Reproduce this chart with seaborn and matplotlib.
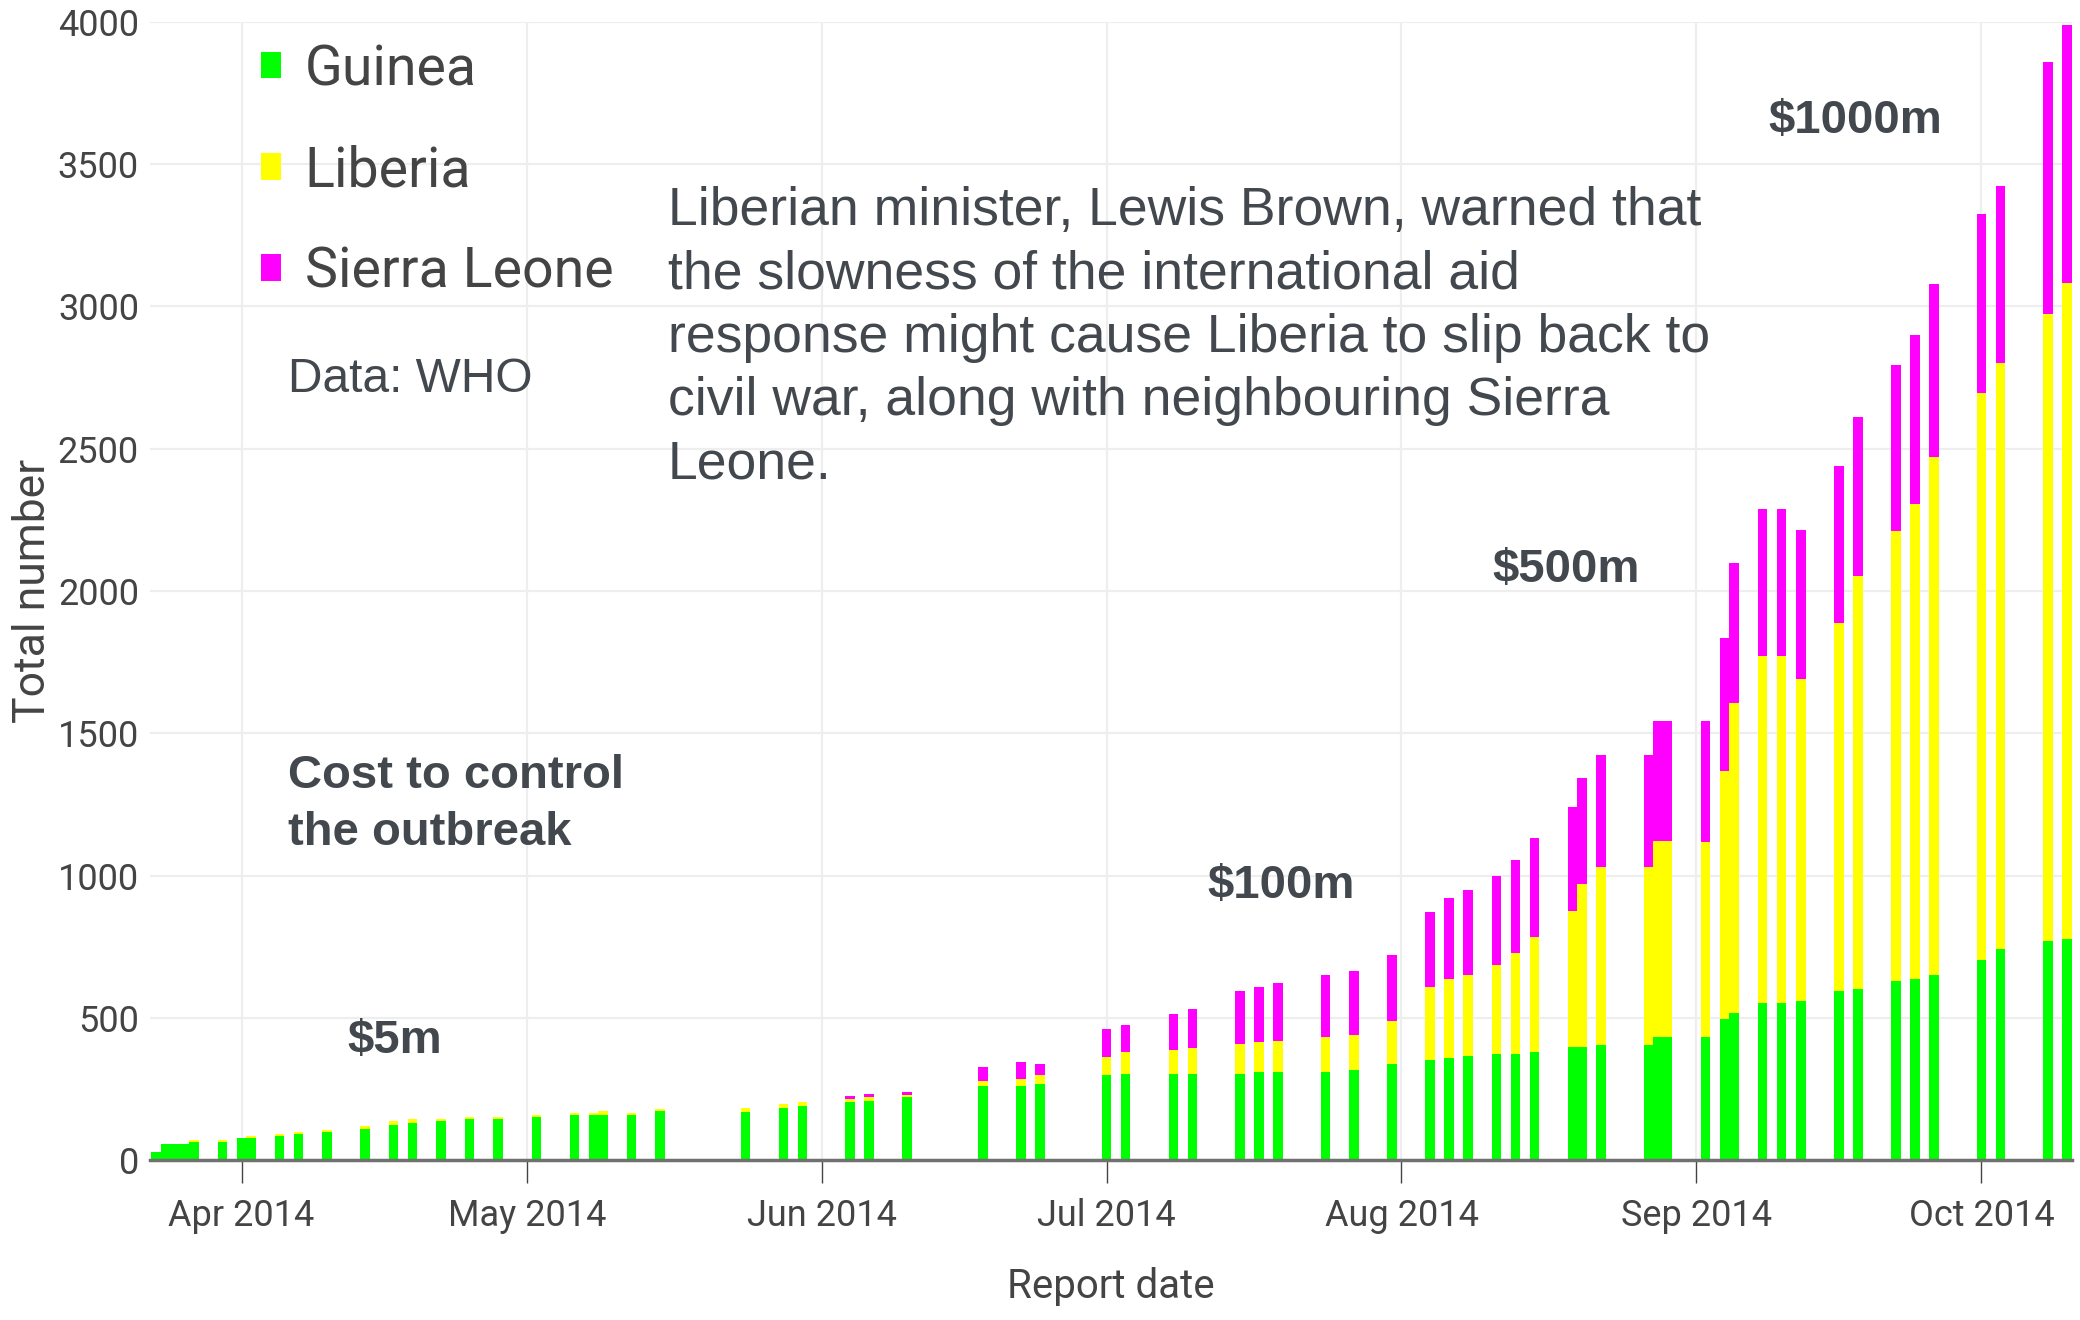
import pandas as pd
import numpy as np
import matplotlib.pyplot as plt
import matplotlib.dates as mdates
from matplotlib.patches import Patch
import seaborn as sns

# Dados (mortes acumuladas reportadas pela OMS)
report_dates = ['2014-03-23', '2014-03-24', '2014-03-25', '2014-03-26', '2014-03-27', '2014-03-30',
                '2014-04-01', '2014-04-02', '2014-04-05', '2014-04-07', '2014-04-10', '2014-04-14',
                '2014-04-17', '2014-04-19', '2014-04-22', '2014-04-25', '2014-04-28', '2014-05-02',
                '2014-05-06', '2014-05-08', '2014-05-09', '2014-05-12', '2014-05-15', '2014-05-24',
                '2014-05-28', '2014-05-30', '2014-06-04', '2014-06-06', '2014-06-10', '2014-06-18',
                '2014-06-22', '2014-06-24', '2014-07-01', '2014-07-03', '2014-07-08', '2014-07-10',
                '2014-07-15', '2014-07-17', '2014-07-19', '2014-07-24', '2014-07-27', '2014-07-31',
                '2014-08-04', '2014-08-06', '2014-08-08', '2014-08-11', '2014-08-13', '2014-08-15',
                '2014-08-19', '2014-08-20', '2014-08-22', '2014-08-27', '2014-08-28', '2014-08-29',
                '2014-09-02', '2014-09-04', '2014-09-05', '2014-09-08', '2014-09-10', '2014-09-12',
                '2014-09-16', '2014-09-18', '2014-09-22', '2014-09-24', '2014-09-26', '2014-10-01',
                '2014-10-03', '2014-10-08', '2014-10-10']
guinea = [29, 56, 56, 56, 63, 63, 78, 78, 85, 92, 100, 108,
          122, 129, 136, 143, 143, 150, 157, 157, 157, 157, 171, 170,
          183, 190, 203, 209, 223, 259, 259, 266, 300, 301, 302, 302,
          302, 309, 309, 309, 316, 336, 351, 358, 365, 372, 372, 379,
          398, 398, 404, 404, 431, 431, 431, 494, 515, 551, 551, 559,
          593, 601, 628, 635, 649, 704, 740, 769, 776]
liberia = [0, 0, 0, 0, 7, 7, 0, 6, 7, 8, 7, 13,
           14, 14, 7, 7, 7, 7, 7, 7, 14, 7, 7, 14,
           13, 13, 12, 13, 7, 20, 27, 34, 62, 77, 83, 90,
           104, 105, 111, 125, 125, 154, 257, 278, 285, 313, 355, 404,
           476, 573, 625, 625, 691, 691, 688, 872, 1090, 1222, 1222, 1130,
           1294, 1453, 1582, 1670, 1821, 1993, 2063, 2203, 2308]
sierra_leone = [0, 0, 0, 0, 0, 0, 0, 0, 0, 0, 0, 0,
                0, 0, 0, 0, 0, 0, 0, 0, 0, 0, 0, 0,
                0, 0, 10, 9, 8, 49, 57, 36, 99, 98, 127, 139,
                188, 194, 202, 216, 223, 230, 265, 286, 300, 315, 328, 350,
                368, 373, 393, 393, 420, 420, 423, 470, 493, 514, 514, 527,
                554, 557, 585, 596, 608, 629, 622, 886, 906]

countries = ['Guinea', 'Liberia', 'Sierra Leone']
colors = ['#00ff00', '#ffff00', '#ff00ff']
cost_labels = ['$5m', '$100m', '$500m', '$1000m']

df = pd.DataFrame({'data': pd.to_datetime(report_dates),
                   'guinea': guinea, 'liberia': liberia, 'sierra_leone': sierra_leone})
df['x'] = mdates.date2num(df['data'])
df['ate_liberia'] = df['guinea'] + df['liberia']
df['total'] = df['ate_liberia'] + df['sierra_leone']

# Estilo
sns.set_theme(style='whitegrid')
narrow = ['Liberation Sans Narrow', 'Roboto', 'DejaVu Sans']
arial = ['Liberation Sans', 'DejaVu Sans']
plt.rcParams['font.family'] = narrow
texto = '#42484d'
eixo = '#444444'

fig = plt.figure(figsize=(20.8, 13.2), dpi=100)
ax = fig.add_axes([150 / 2080, 1 - 1160 / 1320, 1922 / 2080, 1138 / 1320])

# Barras empilhadas: desenha o total e sobrepõe as camadas inferiores
for col, cor in zip(['total', 'ate_liberia', 'guinea'], colors[::-1]):
    sns.barplot(data=df, x='x', y=col, native_scale=True, orient='x', width=1,
                color=cor, saturation=1, errorbar=None, linewidth=0, ax=ax)

ax.set_xlim(mdates.date2num(pd.Timestamp('2014-04-01')) - 9.63,
            mdates.date2num(pd.Timestamp('2014-10-10')) + 0.53)
ax.set_ylim(0, 4000)
ax.set_yticks(np.arange(0, 4001, 500))
ax.xaxis.set_major_locator(mdates.MonthLocator())
ax.xaxis.set_major_formatter(mdates.DateFormatter('%b %Y'))

ax.grid(True, color='#eeeeee', linewidth=1.6)
ax.set_axisbelow(True)
for lado in ['top', 'right', 'left']:
    ax.spines[lado].set_visible(False)
ax.spines['bottom'].set_color('#707070')
ax.spines['bottom'].set_linewidth(2.5)

ax.tick_params(axis='x', bottom=True, direction='out', length=16.5, width=1, color=eixo,
               labelsize=26, labelcolor=eixo, pad=11)
ax.tick_params(axis='y', left=False, labelsize=26, labelcolor=eixo, pad=2)

ax.set_xlabel('Report date', fontsize=29, color=eixo)
ax.set_ylabel('Total number', fontsize=32, color=eixo)
ax.xaxis.set_label_coords(0.5, -0.094)
ax.yaxis.set_label_coords(-0.05, 0.5)

# Legenda
handles = [Patch(facecolor=c, edgecolor='none') for c in colors]
ax.legend(handles, countries, loc='upper left', bbox_to_anchor=(0.058, 0.9815),
          frameon=False, fontsize=40, handlelength=0.36, handleheight=0.36,
          handletextpad=0.42, labelspacing=0.87, borderpad=0, borderaxespad=0,
          labelcolor=eixo)

def px(x, y):
    return x / 2080, 1 - y / 1320

fig.text(*px(288, 392), 'Data: WHO', fontsize=34.5, color=texto, family=arial,
         va='baseline')

paragrafo = ['Liberian minister, Lewis Brown, warned that',
             'the slowness of the international aid',
             'response might cause Liberia to slip back to',
             'civil war, along with neighbouring Sierra',
             'Leone.']
for i, linha in enumerate(paragrafo):
    fig.text(*px(668, 225 + i * 63.5), linha, fontsize=38.5, color=texto,
             family=arial, va='baseline')

fig.text(*px(288, 788), 'Cost to control', fontsize=34, color=texto, family=arial,
         weight='bold', va='baseline')
fig.text(*px(288, 845), 'the outbreak', fontsize=34, color=texto, family=arial,
         weight='bold', va='baseline')

for rotulo, (x, y) in zip(cost_labels, [(347, 1053), (1207, 898), (1492, 582), (1768, 133)]):
    fig.text(*px(x, y), rotulo, fontsize=34, color=texto, family=arial,
             weight='bold', va='baseline')

plt.savefig('out.png', dpi=100)
plt.close()
